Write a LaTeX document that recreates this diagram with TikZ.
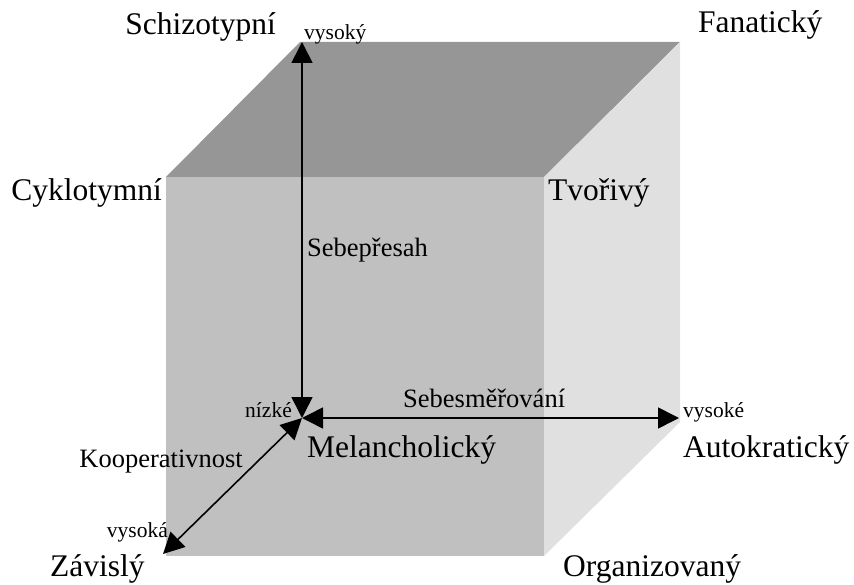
\documentclass[tikz,border=0pt]{standalone}
\usepackage{fontspec}
\setmainfont{Liberation Serif}
\usetikzlibrary{arrows.meta}
\definecolor{topface}{RGB}{150,150,150}
\definecolor{frontface}{RGB}{192,192,192}
\definecolor{sideface}{RGB}{224,224,224}
\tikzset{
  big/.style={font=\fontsize{31.5}{36}\selectfont, inner sep=0pt},
  mid/.style={font=\fontsize{26.5}{30}\selectfont, inner sep=0pt},
  small/.style={font=\fontsize{21.5}{24}\selectfont, inner sep=0pt},
  axis/.style={line width=1.6pt, {Triangle[length=21pt,width=21pt]}-{Triangle[length=21pt,width=21pt]}},
}
\begin{document}
\begin{tikzpicture}[x=1pt,y=-1pt]
\useasboundingbox (0,0) rectangle (854,585);
% cube faces
\fill[topface] (166,177) -- (300,42) -- (680,42) -- (544,177) -- cycle;
\fill[sideface] (544,177) -- (680,42) -- (680,422) -- (544,556) -- cycle;
\fill[frontface] (166,177) rectangle (544,556);
% axes
\coordinate (O) at (302,418);
\coordinate (V) at (302,42);
\coordinate (H) at (679,418);
\coordinate (D) at (163,554);
\draw[axis] (O) -- (V);
\draw[axis] (O) -- (H);
\draw[axis] (O) -- (D);
% big labels
\node[big, anchor=base east] (schizo) at (276,35) {Schizotypní};
\node[big, anchor=base west] (fana) at (698,33) {Fanatický};
\node[big, anchor=base east] (cyklo) at (162,201) {Cyklotymní};
\node[big, anchor=base west] (tvor) at (548,201) {Tvořivý};
\node[big, anchor=base west] (mela) at (307,457) {Melancholický};
\node[big, anchor=base west] (auto) at (683,457) {Autokratický};
\node[big, anchor=base west] (zav) at (50,576) {Závislý};
\node[big, anchor=base west] (org) at (563,576) {Organizovaný};
% axis labels
\node[mid, anchor=base west] (sp) at (307,257) {Sebepřesah};
\node[mid, anchor=base west] (ss) at (403,407) {Sebesměřování};
\node[mid, anchor=base east] (koop) at (243,467) {Kooperativnost};
\node[small, anchor=base west] (vys1) at (304,40) {vysoký};
\node[small, anchor=base east] (niz) at (292,417) {nízké};
\node[small, anchor=base west] (vys2) at (683,417) {vysoké};
\node[small, anchor=base east] (vys3) at (168,537) {vysoká};
\end{tikzpicture}
\end{document}
